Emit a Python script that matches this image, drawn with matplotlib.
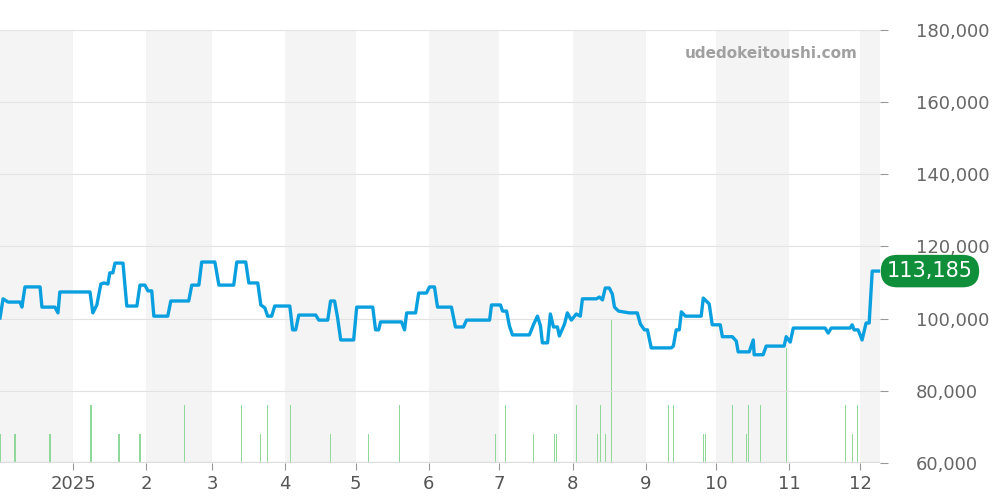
import matplotlib
matplotlib.use("Agg")
import matplotlib.pyplot as plt
import pandas as pd
import numpy as np

start = pd.Timestamp("2024-12-01")
price_days = [0,1.3,3.4,8.5,9.3,10.6,17,17.8,23.3,24.6,25.4,38.2,39.4,41.1,42.8,44.1,45.8,46.6,47.9,48.8,52.2,53.8,58.1,59.4,61.5,62.8,64.4,65.3,71.2,72.5,80.1,81.4,84.4,85.6,91.2,92.9,99.2,100.5,104.3,105.6,109.4,110.7,112.4,113.6,115.3,116.6,123,124.2,125.5,126.8,134,135.3,139.1,140.3,142,143.3,144.6,150.1,151.4,158.2,159.4,160.7,161.5,170.4,171.7,172.6,176.4,177.7,181,182.3,184.4,185.7,191.6,193.3,196.7,198,207.8,208.6,212.4,213.3,215,216.2,217.5,224.7,226.4,228.1,229.4,230.2,232.4,233.6,234.9,236.6,237.4,239.6,240.8,242.5,244.6,246.3,247.2,253.1,254.4,255.7,256.9,258.6,259.9,260.8,262.5,267.1,270.5,271.8,273.5,274.8,276.4,284.9,285.8,287,288.3,289.2,290.9,296.8,297.6,298.5,301,302.3,305.7,306.6,310.8,312.5,313.3,318,319.7,320.1,323.9,325.2,332.8,333.7,335.4,336.7,350.2,351.5,352.8,360.8,361.7,362.5,364.2,365.9,367.6,368.9,370.2,373.1]
price_k = [100.2,105.5,104.6,104.6,103.2,108.8,108.8,103.2,103.2,101.6,107.4,107.4,101.6,103.8,109.6,109.9,109.6,112.7,112.7,115.4,115.4,103.5,103.5,109.3,109.3,107.7,107.7,100.7,100.7,104.9,104.9,109.3,109.3,115.7,115.7,109.3,109.3,115.7,115.7,109.9,109.9,103.8,103.0,100.7,100.7,103.5,103.5,96.9,96.9,101.0,101.0,99.6,99.6,104.9,104.9,100.2,94.1,94.1,103.2,103.2,96.9,96.9,99.1,99.1,96.9,101.6,101.6,107.1,107.1,108.8,108.8,103.2,103.2,97.7,97.7,99.6,99.6,103.8,103.8,102.1,102.1,98.0,95.5,95.5,98.3,100.7,98.0,93.3,93.3,101.3,97.7,97.7,95.2,98.5,101.6,99.6,101.3,100.7,105.5,105.5,106.0,105.2,108.5,108.5,106.8,103.2,102.1,101.6,101.6,98.5,96.9,96.9,91.9,91.9,92.4,96.9,96.9,101.9,100.7,100.7,100.7,105.7,104.1,98.3,98.3,95.0,95.0,93.8,90.8,90.8,94.1,90.0,90.0,92.4,92.4,95.0,93.5,97.4,97.4,96.0,97.4,97.4,98.3,96.9,96.9,94.1,98.8,98.8,113.185,113.185]
vol_days = [0,6.4,21.2,38.6,50.5,59.4,78.4,102.6,110.7,113.6,123.4,140.3,156.5,169.6,210.3,214.5,226.4,235.3,236.2,244.6,253.6,254.8,256.9,259.5,283.7,285.8,298.5,299.3,310.8,316.7,317.6,322.7,333.7,358.7,361.7,363.8]
vol_counts = [1,1,1,2,1,1,2,2,1,2,2,1,1,2,1,2,1,1,1,2,1,2,1,5,2,2,1,1,2,1,2,2,4,2,1,2]
last_price = 113185
month_labels = ["2025","2","3","4","5","6","7","8","9","10","11","12"]

pdates = start + pd.to_timedelta(price_days, unit="D")
vdates = start + pd.to_timedelta(vol_days, unit="D")
pvals = np.array(price_k) * 1000

fig = plt.figure(figsize=(10, 5), dpi=100)
ax = fig.add_axes([0, 0.074, 0.88, 0.866])
ax2 = ax.twinx()
xmin, xmax = start, start + pd.Timedelta(days=373.5)

months = pd.date_range("2024-12-01", "2026-01-01", freq="MS")
for i in range(0, len(months) - 1, 2):
    ax2.axvspan(months[i], months[i + 1], color="#f4f4f4", zorder=0, lw=0)

ax2.bar(vdates, vol_counts, width=0.5, color="#8fd89a", zorder=1)
ax2.plot([xmin, xmax], [0.05, 0.05], color="#dddddd", lw=1, zorder=1)
ax2.set_ylim(0, 15)
ax2.set_yticks([])
ax2.set_zorder(1)
ax2.grid(False)

ax.set_zorder(2)
ax.patch.set_visible(False)
ax.plot(pdates, pvals, color="#0aa0e0", lw=2.4, zorder=3)
ax.set_xlim(xmin, xmax)
ax.set_ylim(60000, 180000)
ax.set_yticks(range(60000, 180001, 20000))
ax.yaxis.tick_right()
ax.set_yticklabels([f"{v:,}" for v in range(60000, 180001, 20000)], color="#666666", fontsize=13)
ax.grid(axis="y", color="#e2e2e2", lw=0.8)
ax.set_xticks(months[1:13])
ax.set_xticklabels(month_labels, color="#555555", fontsize=13)
ax.tick_params(axis="y", length=6, color="#999999", pad=20)
ax.tick_params(axis="x", length=5, color="#999999")
for s in ax.spines.values():
    s.set_visible(False)
for s in ax2.spines.values():
    s.set_visible(False)

ax.text(0.975, 0.945, "udedokeitoushi.com", transform=ax.transAxes, ha="right", va="center",
        fontsize=11, fontweight="bold", color="#a0a0a0")
ax.annotate(f"{last_price:,}", xy=(1.0, last_price), xycoords=("axes fraction", "data"),
            xytext=(5, 0), textcoords="offset points", ha="left", va="center", fontsize=15,
            color="white", bbox=dict(boxstyle="round,pad=0.3,rounding_size=0.8", fc="#0f8f3a", ec="none"),
            zorder=10, annotation_clip=False)

fig.savefig("out.png")
